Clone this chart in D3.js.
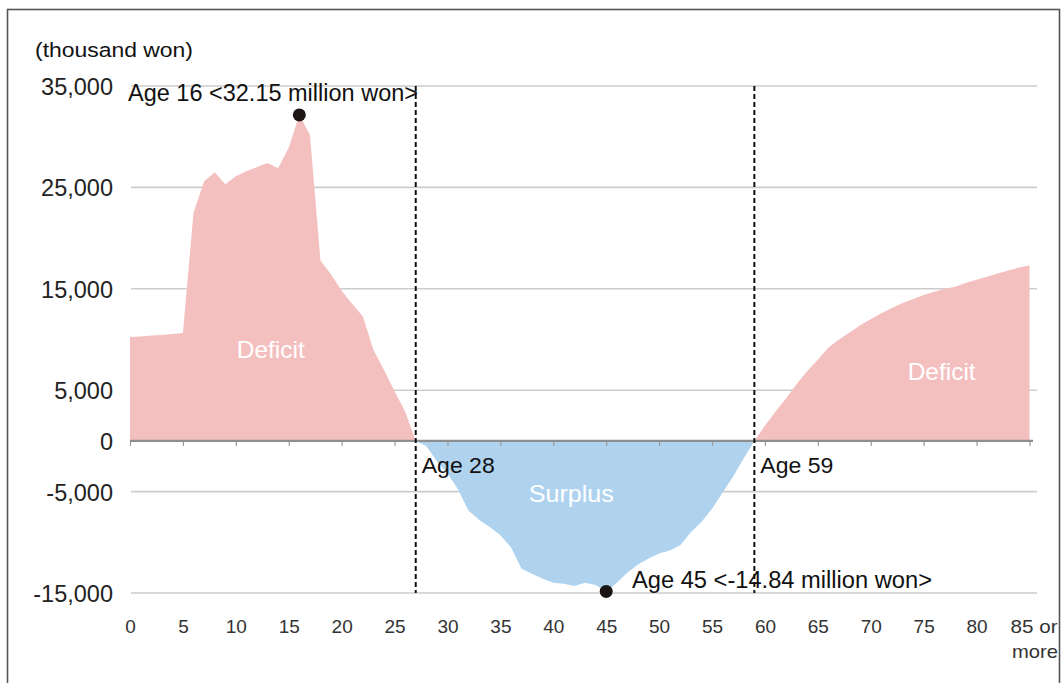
<!DOCTYPE html>
<html>
<head>
<meta charset="utf-8">
<script src="https://cdn.jsdelivr.net/npm/d3@7"></script>
<style>
  html, body { margin: 0; padding: 0; background: #fff; }
  svg { display: block; }
  text { font-family: "Liberation Sans", Arial, sans-serif; }
</style>
</head>
<body>
<svg id="chart" width="1061" height="683"></svg>
<script>
// Net balance by age (thousand won): positive = deficit, negative = surplus
const ages = d3.range(0, 86);
const balance = [
  10250, 10300, 10400, 10450, 10550, 10650, 22500, 25600, 26500, 25300,
  26100, 26600, 27000, 27400, 26900, 28900, 32150, 30200, 17800, 16400,
  14800, 13500, 12300, 9000, 7000, 4900, 2900, 0, -500, -2000,
  -3200, -4800, -6900, -7800, -8500, -9300, -10500, -12600, -13100, -13600,
  -14000, -14100, -14300, -14000, -14200, -14840, -14000, -13000, -12200, -11600,
  -11100, -10800, -10300, -9000, -8000, -6700, -5100, -3500, -1700, 0,
  1500, 2900, 4200, 5600, 6900, 8000, 9200, 10000, 10700, 11400,
  12000, 12600, 13100, 13600, 14000, 14400, 14700, 15000, 15200, 15600,
  15900, 16200, 16500, 16800, 17100, 17300
];
const yTicks = [35000, 25000, 15000, 5000, 0, -5000, -15000];
const xTicks = [0, 5, 10, 15, 20, 25, 30, 35, 40, 45, 50, 55, 60, 65, 70, 75, 80, 85];
const lastTickLabel = ["85 or", "more"];
const unitLabel = "(thousand won)";
const crossLabels = ["Age 28", "Age 59"];
const peaks = [
  { age: 16, value: 32150, label: "Age 16 <32.15 million won>" },
  { age: 45, value: -14840, label: "Age 45 <-14.84 million won>" }
];
const regionLabels = [
  { age: 13.3, value: 8200, text: "Deficit" },
  { age: 76.7, value: 6000, text: "Deficit" },
  { age: 41.7, value: -6000, text: "Surplus" }
];

const data = ages.map((a, i) => ({ age: a, v: balance[i] }));

const svg = d3.select("#chart");
const x = d3.scaleLinear().domain([0, 85]).range([130, 1029.5]);
const y = d3.scaleLinear().domain([-15000, 35000]).range([593, 86]);
const fmt = d => d3.format(",")(d).replace("\u2212", "-");

// outer frame
svg.append("rect")
  .attr("x", 7.5).attr("y", 9.5).attr("width", 1052).attr("height", 700)
  .attr("fill", "#fff").attr("stroke", "#555").attr("stroke-width", 1.6);

// horizontal gridlines (zero line is drawn separately above the areas)
svg.append("g").selectAll("line")
  .data(yTicks.filter(d => d !== 0))
  .join("line")
  .attr("x1", 131).attr("x2", 1037)
  .attr("y1", d => y(d)).attr("y2", d => y(d))
  .attr("stroke", "#cdcdcd").attr("stroke-width", 1.6);

// deficit / surplus areas
const area = d3.area()
  .x(d => x(d.age))
  .y0(y(0));

svg.append("path")
  .datum(data)
  .attr("fill", "#f4c0bf")
  .attr("d", area.y1(d => y(Math.max(d.v, 0))));

svg.append("path")
  .datum(data)
  .attr("fill", "#afd3ef")
  .attr("d", area.y1(d => y(Math.min(d.v, 0))));

// zero line with tick marks
const zeroAxis = svg.append("g")
  .attr("transform", `translate(0,${y(0)})`)
  .call(d3.axisBottom(x).tickValues(xTicks).tickSize(5).tickFormat(""));
zeroAxis.select(".domain").remove();
zeroAxis.append("line")
  .attr("x1", 130).attr("x2", 1033).attr("y1", 0).attr("y2", 0)
  .attr("stroke", "#8e8e8e").attr("stroke-width", 2.4);
zeroAxis.selectAll(".tick line").attr("stroke", "#9a9a9a").attr("stroke-width", 1.2);

// x tick labels
const xLab = svg.append("g")
  .attr("transform", "translate(0,633)")
  .call(d3.axisBottom(x).tickValues(xTicks).tickSize(0).tickPadding(0)
    .tickFormat(d => d === 85 ? lastTickLabel[0] : String(d)));
xLab.select(".domain").remove();
xLab.selectAll("text")
  .attr("font-family", "Liberation Sans, Arial, sans-serif")
  .attr("font-size", 19).attr("fill", "#333")
  .attr("y", 0).attr("dy", 0);
const lastTick = xLab.selectAll(".tick").filter(d => d === 85);
lastTick.select("text")
  .attr("x", 4)
  .attr("textLength", 47).attr("lengthAdjust", "spacingAndGlyphs");
lastTick.append("text")
  .attr("x", 5).attr("y", 25)
  .attr("text-anchor", "middle")
  .attr("font-size", 19).attr("fill", "#333")
  .attr("textLength", 46).attr("lengthAdjust", "spacingAndGlyphs")
  .text(lastTickLabel[1]);

// y tick labels
const yLab = svg.append("g")
  .attr("transform", "translate(113,0)")
  .call(d3.axisLeft(y).tickValues(yTicks).tickSize(0).tickPadding(0)
    .tickFormat(fmt));
yLab.select(".domain").remove();
yLab.selectAll("text")
  .attr("font-family", "Liberation Sans, Arial, sans-serif")
  .attr("font-size", 23.5).attr("fill", "#222").attr("dy", "0.36em");

// unit label
svg.append("text")
  .attr("x", 35).attr("y", 57)
  .attr("font-size", 20.5).attr("fill", "#111")
  .attr("textLength", 158).attr("lengthAdjust", "spacingAndGlyphs")
  .text(unitLabel);

// region labels
const regionWidths = [68, 68, 85];
svg.append("g").selectAll("text")
  .data(regionLabels)
  .join("text")
  .attr("x", d => x(d.age)).attr("y", d => y(d.value))
  .attr("text-anchor", "middle")
  .attr("font-size", 24)
  .attr("textLength", (d, i) => regionWidths[i]).attr("lengthAdjust", "spacingAndGlyphs")
  .attr("fill", "#fff")
  .text(d => d.text);

// peak markers and labels
svg.append("g").selectAll("circle")
  .data(peaks)
  .join("circle")
  .attr("cx", d => x(d.age)).attr("cy", d => y(d.value))
  .attr("r", 6.5).attr("fill", "#1b1614");

svg.append("text")
  .attr("x", 128).attr("y", 101)
  .attr("font-size", 23).attr("fill", "#111")
  .attr("textLength", 290).attr("lengthAdjust", "spacingAndGlyphs")
  .text(peaks[0].label);

svg.append("text")
  .attr("x", 632).attr("y", 588)
  .attr("font-size", 23).attr("fill", "#111")
  .attr("textLength", 300).attr("lengthAdjust", "spacingAndGlyphs")
  .text(peaks[1].label);

// break-even ages (where the balance crosses zero)
const crossAges = data.filter((d, i) => d.v === 0 && i > 0).map(d => d.age);

svg.append("g").selectAll("text")
  .data(crossAges)
  .join("text")
  .attr("x", d => x(d) + 6).attr("y", 473)
  .attr("font-size", 22).attr("fill", "#111")
  .attr("textLength", 73).attr("lengthAdjust", "spacingAndGlyphs")
  .text((d, i) => crossLabels[i]);

svg.append("g").selectAll("line")
  .data(crossAges)
  .join("line")
  .attr("x1", d => x(d)).attr("x2", d => x(d))
  .attr("y1", y(35000)).attr("y2", y(-15000))
  .attr("stroke", "#111").attr("stroke-width", 2)
  .attr("stroke-dasharray", "5,3");
</script>
</body>
</html>
